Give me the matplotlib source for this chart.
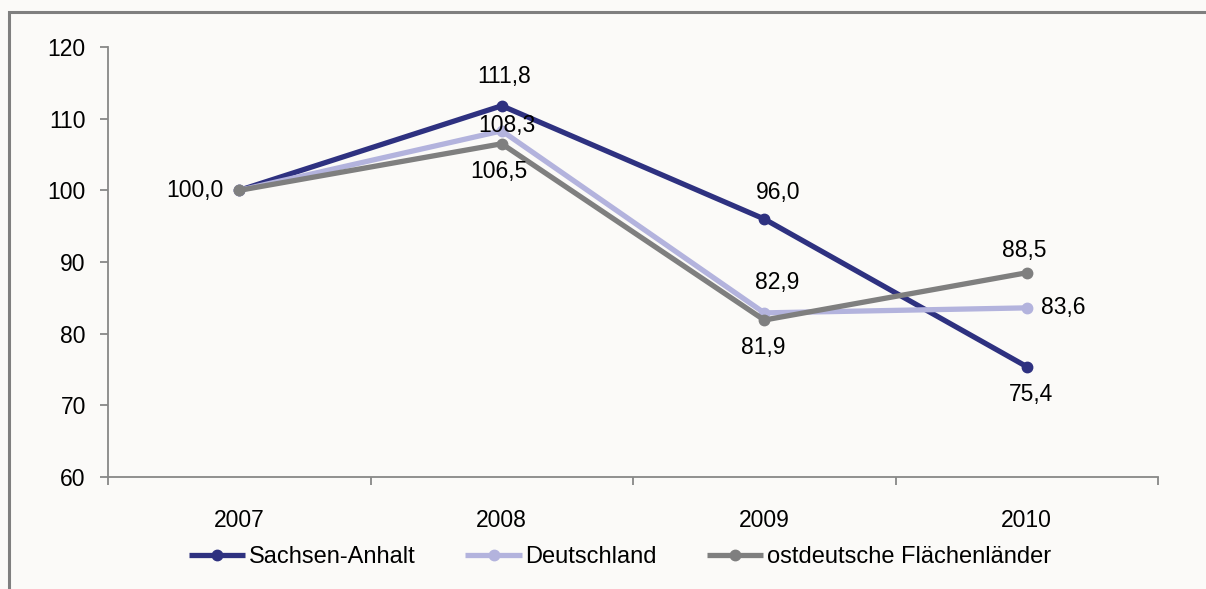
import matplotlib.pyplot as plt
from matplotlib.patches import Rectangle

plt.rcParams['font.family'] = ['Liberation Sans', 'DejaVu Sans']

# Daten (Index, 2007 = 100)
years = ['2007', '2008', '2009', '2010']
sachsen_anhalt = [100.0, 111.8, 96.0, 75.4]
deutschland = [100.0, 108.3, 82.9, 83.6]
ostdeutsche = [100.0, 106.5, 81.9, 88.5]
series_names = ['Sachsen-Anhalt', 'Deutschland', 'ostdeutsche Flächenländer']

colors = ['#2e3180', '#b3b3dd', '#7f7f7f']
bg = '#fbfaf8'

# Beschriftungs-Offsets (Punkte) je Reihe und Jahr; None = keine Beschriftung
label_offsets = [
    [None, (2, 21), (10, 19), (3, -20)],
    [None, (4, 4), (9, 22), (10, 0)],
    [(-11, 0), (-2, -20), (-1, -20), (-2, 16)],
]

fig = plt.figure(figsize=(12.06, 5.89), dpi=100, facecolor=bg)
ax = fig.add_axes([108 / 1206, 1 - 477 / 589, 1050 / 1206, 430 / 589])
ax.set_facecolor(bg)

x = list(range(len(years)))
for vals, name, col, offs in zip([sachsen_anhalt, deutschland, ostdeutsche],
                                 series_names, colors, label_offsets):
    ax.plot(x, vals, color=col, lw=3.8, marker='o', ms=7.5, label=name,
            solid_capstyle='butt')
    for xi, v, off in zip(x, vals, offs):
        if off is None:
            continue
        dx, dy = off
        if dx < -5:
            ha = 'right'
        elif dx >= 10 and dy == 0:
            ha = 'left'
        else:
            ha = 'center'
        ax.annotate(f'{v:.1f}'.replace('.', ','), (xi, v), xytext=(dx, dy),
                    textcoords='offset points', ha=ha, va='center',
                    fontsize=16.5, color='black')

ax.set_xlim(-0.5, 3.5)
ax.set_ylim(60, 120)
ax.set_yticks(range(60, 121, 10))
ax.set_xticks(x)
ax.set_xticklabels(years)
ax.set_xticks([-0.5, 0.5, 1.5, 2.5, 3.5], minor=True)
ax.tick_params(axis='x', which='major', length=0, pad=23, labelsize=16.5)
ax.tick_params(axis='x', which='minor', length=6, width=1.3, color='#878787')
ax.tick_params(axis='y', length=6, width=1.3, color='#878787', pad=10, labelsize=16.5)

for s in ['top', 'right']:
    ax.spines[s].set_visible(False)
for s in ['left', 'bottom']:
    ax.spines[s].set_color('#878787')
    ax.spines[s].set_linewidth(1.3)

fig.legend(loc='center', bbox_to_anchor=(0.514, 0.054), ncol=3, frameon=False,
           fontsize=17, handlelength=2.4, handletextpad=0.15, columnspacing=2.1)

# Rahmen um die Grafik
fig.patches.append(Rectangle((9 / 1206, -0.05), 1.1, 1 - 12 / 589 + 0.05,
                             transform=fig.transFigure, fill=False,
                             edgecolor='#7f7f7f', lw=2.2))

fig.savefig('out.png', dpi=100, facecolor=bg)
